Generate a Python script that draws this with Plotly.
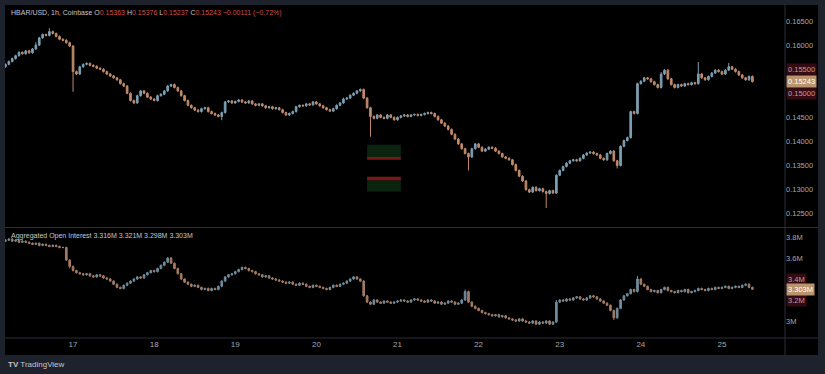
import plotly.graph_objects as go
from plotly.subplots import make_subplots
import pandas as pd

# ---------------- data ----------------
start_time = "2025-01-16 04:00"

# hourly closes, HBAR/USD
close = [
    0.1560, 0.1566, 0.1572, 0.1578, 0.1585, 0.1582, 0.1588, 0.1584, 0.1592, 0.1600,
    0.1615, 0.1622, 0.1620, 0.1628, 0.1624, 0.1618, 0.1612, 0.1610, 0.1605, 0.1598,
    0.1545, 0.1540, 0.1555, 0.1560, 0.1562, 0.1558, 0.1556, 0.1552, 0.1550, 0.1545,
    0.1540, 0.1536, 0.1532, 0.1528, 0.1520, 0.1515, 0.1500, 0.1485, 0.1480, 0.1495,
    0.1505, 0.1500, 0.1492, 0.1488, 0.1485, 0.1495, 0.1498, 0.1505, 0.1515, 0.1518,
    0.1512, 0.1505, 0.1495, 0.1485, 0.1475, 0.1470, 0.1465, 0.1462, 0.1468, 0.1470,
    0.1462, 0.1458, 0.1455, 0.1452, 0.1460, 0.1482, 0.1484, 0.1480, 0.1483, 0.1486,
    0.1482, 0.1480, 0.1484, 0.1478, 0.1475, 0.1478, 0.1474, 0.1470, 0.1472, 0.1468,
    0.1470, 0.1466, 0.1460, 0.1455, 0.1458, 0.1462, 0.1472, 0.1475, 0.1474, 0.1478,
    0.1476, 0.1482, 0.1478, 0.1474, 0.1470, 0.1466, 0.1463, 0.1468, 0.1475, 0.1480,
    0.1488, 0.1490, 0.1496, 0.1500, 0.1505, 0.1508, 0.1490, 0.1470, 0.1452, 0.1448,
    0.1455, 0.1450, 0.1448, 0.1455, 0.1450, 0.1445, 0.1450, 0.1453, 0.1455, 0.1452,
    0.1455, 0.1456, 0.1454, 0.1456, 0.1458, 0.1460, 0.1458, 0.1452, 0.1445, 0.1438,
    0.1432, 0.1425, 0.1415, 0.1405, 0.1395, 0.1385, 0.1375, 0.1368, 0.1385, 0.1395,
    0.1388, 0.1380, 0.1384, 0.1388, 0.1386, 0.1380, 0.1375, 0.1368, 0.1365, 0.1362,
    0.1352, 0.1340, 0.1328, 0.1318, 0.1300, 0.1295, 0.1305, 0.1298, 0.1302, 0.1296,
    0.1292, 0.1298, 0.1293, 0.1330, 0.1340, 0.1348, 0.1355, 0.1360, 0.1362, 0.1360,
    0.1365, 0.1372, 0.1376, 0.1378, 0.1375, 0.1372, 0.1365, 0.1362, 0.1375, 0.1380,
    0.1360, 0.1350, 0.1390, 0.1402, 0.1408, 0.1462, 0.1458, 0.1520, 0.1525, 0.1532,
    0.1530, 0.1524, 0.1518, 0.1512, 0.1540, 0.1548, 0.1530, 0.1518, 0.1512, 0.1518,
    0.1515, 0.1520, 0.1518, 0.1522, 0.1520, 0.1540, 0.1532, 0.1528, 0.1535, 0.1542,
    0.1548, 0.1545, 0.1540, 0.1548, 0.1555, 0.1550, 0.1545, 0.1538, 0.1532, 0.1528,
    0.1535, 0.15243,
]
first_open = 0.1555
# wick lengths beyond the body (price units) for the candles with visible long wicks
wick_default = 0.0002
upper_wick = {13: 0.0007, 9: 0.0006, 205: 0.0025, 214: 0.0008, 194: 0.0004, 100: 0.0003}
lower_wick = {20: 0.0042, 108: 0.0042, 160: 0.0030, 137: 0.0028, 181: 0.0006, 64: 0.0008}

# hourly aggregated open interest (millions)
oi = [
    3.77, 3.78, 3.76, 3.77, 3.75, 3.76,
    3.75, 3.74, 3.73, 3.74, 3.72, 3.73, 3.72, 3.71, 3.72, 3.71, 3.70, 3.70,
    3.58, 3.52,
    3.48, 3.46, 3.45, 3.44, 3.45, 3.43, 3.42, 3.44, 3.43, 3.41, 3.40, 3.38, 3.35, 3.32, 3.31, 3.34,
    3.36, 3.38, 3.40, 3.42, 3.41, 3.44, 3.46, 3.48, 3.47, 3.50, 3.53, 3.56, 3.60,
    3.55, 3.50, 3.45, 3.40, 3.37, 3.35, 3.33, 3.34, 3.32, 3.30, 3.31, 3.29, 3.31, 3.30,
    3.33, 3.38, 3.42, 3.44, 3.45, 3.47, 3.49, 3.51, 3.50, 3.48, 3.47, 3.45, 3.44, 3.42, 3.43, 3.41, 3.40,
    3.39, 3.38, 3.37, 3.36, 3.37, 3.35, 3.34, 3.36, 3.35, 3.33, 3.32, 3.34, 3.33, 3.32, 3.31, 3.30,
    3.32, 3.34, 3.33, 3.35, 3.36, 3.38, 3.40, 3.42,
    3.40, 3.38, 3.24, 3.18,
    3.16, 3.20, 3.18, 3.17, 3.19, 3.18, 3.17, 3.18, 3.19, 3.20, 3.19, 3.18, 3.20, 3.21, 3.20, 3.19,
    3.18, 3.20, 3.19, 3.17, 3.18, 3.16, 3.17, 3.19, 3.18, 3.16, 3.17, 3.20, 3.28,
    3.18, 3.14, 3.12, 3.10, 3.08, 3.07, 3.06, 3.05, 3.06, 3.04, 3.05, 3.03,
    3.02, 3.01, 3.00, 3.02, 3.00, 2.99, 2.98, 3.00, 2.97, 2.99, 2.98, 3.00, 2.97, 2.99,
    3.18, 3.20, 3.19, 3.21, 3.20, 3.22, 3.23, 3.21, 3.20, 3.22, 3.24, 3.23, 3.21, 3.19, 3.17, 3.15,
    3.10, 3.03, 3.12,
    3.20, 3.24, 3.26, 3.30, 3.28, 3.40,
    3.35, 3.33, 3.30, 3.28, 3.29, 3.27, 3.30, 3.32, 3.29, 3.28, 3.27, 3.29, 3.28, 3.30, 3.27, 3.28,
    3.29, 3.31, 3.30, 3.29, 3.31, 3.30, 3.32, 3.31, 3.32, 3.33, 3.31, 3.32, 3.33, 3.32, 3.34, 3.35,
    3.32, 3.303,
]
oi_first_open = 3.76
oi_wick_default = 0.008
oi_upper_wick = {187: 0.03, 136: 0.02, 163: 0.02}
oi_lower_wick = {180: 0.02, 19: 0.02}

day_ticks = ["2025-01-%02d" % d for d in range(17, 26)]
day_labels = [str(d) for d in range(17, 26)]

price_ticks = [0.165, 0.160, 0.145, 0.140, 0.135, 0.130, 0.125]
oi_ticks = [3.8, 3.6, 3.0]
oi_tick_labels = ["3.8M", "3.6M", "3M"]

header_ohlc = ["0.15363", "0.15376", "0.15237", "0.15243"]
header_change = "\u22120.00111 (\u22120.72%)"
oi_header_vals = ["3.316M", "3.321M", "3.298M", "3.303M"]
last_price = 0.15243
last_oi = 3.303

# ---------------- build ----------------
t = pd.date_range(start_time, periods=len(close), freq="h")
opn = [first_open] + close[:-1]
high = [max(o, c) + upper_wick.get(i, wick_default) for i, (o, c) in enumerate(zip(opn, close))]
low = [min(o, c) - lower_wick.get(i, wick_default) for i, (o, c) in enumerate(zip(opn, close))]

t2 = pd.date_range(start_time, periods=len(oi), freq="h")
oi_open = [oi_first_open] + oi[:-1]
oi_high = [max(o, c) + oi_upper_wick.get(i, oi_wick_default) for i, (o, c) in enumerate(zip(oi_open, oi))]
oi_low = [min(o, c) - oi_lower_wick.get(i, oi_wick_default) for i, (o, c) in enumerate(zip(oi_open, oi))]

UP = "#7c9fb2"
DOWN = "#c18a6a"
TXT = "#a4a7b0"
FONT = "Liberation Sans"

fig = make_subplots(rows=2, cols=1, shared_xaxes=True, vertical_spacing=0)
fig.add_trace(go.Candlestick(
    x=t, open=opn, high=high, low=low, close=close,
    increasing=dict(line=dict(color=UP, width=1), fillcolor=UP),
    decreasing=dict(line=dict(color=DOWN, width=1), fillcolor=DOWN),
    whiskerwidth=0, showlegend=False, hoverinfo="skip"), row=1, col=1)
fig.add_trace(go.Candlestick(
    x=t2, open=oi_open, high=oi_high, low=oi_low, close=oi,
    increasing=dict(line=dict(color="#6f8c9c", width=1), fillcolor="#6f8c9c"),
    decreasing=dict(line=dict(color="#a37c64", width=1), fillcolor="#a37c64"),
    whiskerwidth=0, showlegend=False, hoverinfo="skip"), row=2, col=1)

W, H = 825, 374
L, R, T, B = 5, 785, 8, 338   # plot area in px


def px_x(px):
    return (px - L) / (R - L)


def px_y(py):
    return (B - py) / (B - T)


x_range = ["2025-01-16 03:52", "2025-01-25 18:39"]
p_top, p_bot = 0.165 + (21 - 8) * 0.0002075, 0.165 - (227 - 21) * 0.0002075
o_top, o_bot = 3.8 + (237 - 228) * 0.2 / 21, 3.8 - (338 - 237) * 0.2 / 21

fig.update_layout(
    width=W, height=H,
    margin=dict(l=L, r=W - R, t=T, b=H - B),
    paper_bgcolor="#1e222d", plot_bgcolor="#000000",
    font=dict(family=FONT, size=8, color=TXT),
    xaxis=dict(range=x_range, showgrid=False, rangeslider=dict(visible=False),
               showticklabels=False, zeroline=False),
    xaxis2=dict(range=x_range, showgrid=False, rangeslider=dict(visible=False),
                tickvals=day_ticks, ticktext=day_labels, ticks="",
                tickfont=dict(size=8, color=TXT), zeroline=False),
    yaxis=dict(domain=[px_y(227), 1], range=[p_bot, p_top], side="right",
               showgrid=False, zeroline=False, tickvals=price_ticks,
               ticktext=["%.5f" % v for v in price_ticks], ticks="",
               tickfont=dict(size=7.5, color=TXT)),
    yaxis2=dict(domain=[0, px_y(228)], range=[o_bot, o_top], side="right",
                showgrid=False, zeroline=False, tickvals=oi_ticks,
                ticktext=oi_tick_labels, ticks="", tickfont=dict(size=7.5, color=TXT)),
)

shapes = [
    # black chart frame
    dict(type="rect", xref="paper", yref="paper", x0=0, x1=px_x(818), y0=px_y(355), y1=px_y(5),
         fillcolor="#000000", line=dict(width=0), layer="below"),
    # pane separator
    dict(type="line", xref="paper", yref="paper", x0=0, x1=px_x(818), y0=px_y(227.5), y1=px_y(227.5),
         line=dict(color="#2a2e39", width=1)),
    # bottom time-axis line
    dict(type="line", xref="paper", yref="paper", x0=0, x1=px_x(818), y0=0, y1=0,
         line=dict(color="#2a2e39", width=1)),
    # price-scale border
    dict(type="line", xref="paper", yref="paper", x0=1, x1=1, y0=px_y(355), y1=px_y(5),
         line=dict(color="#2a2e39", width=1)),
]
# faint liquidity-zone overlay boxes behind the price pane
zones = [
    ("2025-01-20 15:00", "2025-01-21 01:00", 0.1393, 0.1368, "#0b2410"),
    ("2025-01-20 15:00", "2025-01-21 01:00", 0.1368, 0.1362, "#7a1818"),
    ("2025-01-20 15:00", "2025-01-21 01:00", 0.1327, 0.1319, "#7a1818"),
    ("2025-01-20 15:00", "2025-01-21 01:00", 0.1319, 0.1296, "#0b2410"),
]
for x0, x1, y0, y1, col in zones:
    shapes.append(dict(type="rect", xref="x", yref="y", x0=x0, x1=x1, y0=y0, y1=y1,
                       fillcolor=col, line=dict(width=0), layer="below"))
fig.update_layout(shapes=shapes)

red = "#d0504c"
hdr = ("HBAR/USD, 1h, Coinbase O<span style='color:%s'>%s</span> H<span style='color:%s'>%s</span>"
       " L<span style='color:%s'>%s</span> C<span style='color:%s'>%s</span>"
       " <span style='color:%s'>%s</span>") % (
    red, header_ohlc[0], red, header_ohlc[1], red, header_ohlc[2], red, header_ohlc[3], red, header_change)
oi_hdr = "Aggregated Open Interest " + " ".join(oi_header_vals)

ann = [
    dict(text=hdr, xref="paper", yref="paper", x=px_x(9), y=px_y(13), xanchor="left", yanchor="middle",
         showarrow=False, font=dict(size=7, color="#c3c6ce")),
    dict(text=oi_hdr, xref="paper", yref="paper", x=px_x(9), y=px_y(236), xanchor="left", yanchor="middle",
         showarrow=False, font=dict(size=7, color="#c3c6ce")),
    dict(text="<b>TV</b> TradingView", xref="paper", yref="paper", x=px_x(6), y=px_y(364),
         xanchor="left", yanchor="middle", showarrow=False, font=dict(size=8, color="#c3c6ce")),
]
# highlighted price-scale labels
for val, yref, txt, bg, fc in [
    (0.155, "y", "0.15500", "#340b12", "#c99aa1"),
    (0.150, "y", "0.15000", "#340b12", "#c99aa1"),
    (last_price, "y", "%.5f" % last_price, "#b8946f", "#ffffff"),
    (3.4, "y2", "3.4M", "#340b12", "#c99aa1"),
    (3.2, "y2", "3.2M", "#340b12", "#c99aa1"),
    (last_oi, "y2", "%.3fM" % last_oi, "#b8946f", "#ffffff"),
]:
    ann.append(dict(text=txt, xref="paper", yref=yref, x=px_x(786), y=val, xanchor="left",
                    yanchor="middle", showarrow=False, bgcolor=bg, borderpad=1,
                    font=dict(size=7.5, color=fc)))
fig.update_layout(annotations=ann)

fig.write_html("out.html")
